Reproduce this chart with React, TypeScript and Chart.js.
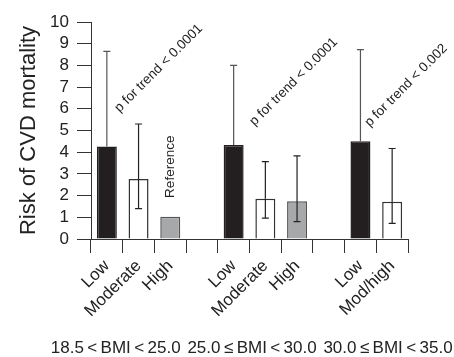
import React, { useEffect, useRef } from "react";
import { Chart, registerables } from "chart.js";

Chart.register(...registerables);

const categories = ["Low", "Moderate", "High", "", "Low", "Moderate", "High", "", "Low", "Mod/high"];
const riskValues = [4.26, 2.76, 1.02, null, 4.33, 1.85, 1.74, null, 4.5, 1.72];
const upperCI = [8.65, 5.3, null, null, 8.0, 3.57, 3.83, null, 8.73, 4.17];
const lowerCI = [null, 1.4, null, null, null, 0.96, 0.8, null, null, 0.72];
const barColors = ["#231f20", "#ffffff", "#a7a8aa", "#ffffff", "#231f20", "#ffffff", "#a7a8aa", "#ffffff", "#231f20", "#ffffff"];
const borderColors = ["#231f20", "#333333", "#555555", "#333333", "#231f20", "#333333", "#555555", "#333333", "#231f20", "#333333"];
const groupLabels = ["18.5\u2009<\u2009BMI\u2009<\u200925.0", "25.0\u2009\u2264\u2009BMI\u2009<\u200930.0", "30.0\u2009\u2264\u2009BMI\u2009<\u200935.0"];
const groupLabelPos = [0.28, 4.58, 8.87];
const trendLabels = ["p for trend < 0.0001", "p for trend < 0.0001", "p for trend < 0.002"];
const trendPos = [
  [0.4, 5.82],
  [4.66, 5.2],
  [8.29, 5.15],
];
const referenceLabel = "Reference";
const referencePos = [2, 3.33];
const yTicks = [0, 1, 2, 3, 4, 5, 6, 7, 8, 9, 10];

const FONT = "'Liberation Sans', Arial, Helvetica, sans-serif";

const overlayPlugin = {
  id: "overlay",
  afterDatasetsDraw(chart: any) {
    const ctx = chart.ctx;
    const xs = chart.scales.x;
    const ys = chart.scales.y;
    ctx.save();
    ctx.lineWidth = 1.2;
    const cap = 3.5;
    for (let i = 0; i < riskValues.length; i++) {
      const v = riskValues[i];
      if (v == null) continue;
      const x = xs.getPixelForValue(i);
      const yv = ys.getPixelForValue(v);
      ctx.strokeStyle = i % 4 === 0 ? "#555555" : "#222222";
      if (upperCI[i] != null) {
        const yu = ys.getPixelForValue(upperCI[i] as number);
        ctx.beginPath();
        ctx.moveTo(x, yv);
        ctx.lineTo(x, yu);
        ctx.moveTo(x - cap, yu);
        ctx.lineTo(x + cap, yu);
        ctx.stroke();
      }
      if (lowerCI[i] != null) {
        const yl = ys.getPixelForValue(lowerCI[i] as number);
        ctx.beginPath();
        ctx.moveTo(x, yv);
        ctx.lineTo(x, yl);
        ctx.moveTo(x - cap, yl);
        ctx.lineTo(x + cap, yl);
        ctx.stroke();
      }
    }
    ctx.fillStyle = "#222";
    ctx.font = `13.5px ${FONT}`;
    ctx.textAlign = "left";
    ctx.textBaseline = "alphabetic";
    trendLabels.forEach((t, k) => {
      const px = xs.getPixelForValue(trendPos[k][0]);
      const py = ys.getPixelForValue(trendPos[k][1]);
      ctx.save();
      ctx.translate(px, py);
      ctx.rotate(-Math.PI / 4);
      ctx.fillText(t, 0, 0);
      ctx.restore();
    });
    ctx.save();
    ctx.translate(xs.getPixelForValue(referencePos[0]), ys.getPixelForValue(referencePos[1]));
    ctx.rotate(-Math.PI / 2);
    ctx.textAlign = "center";
    ctx.textBaseline = "middle";
    ctx.fillText(referenceLabel, 0, 0);
    ctx.restore();
    ctx.font = `17px ${FONT}`;
    ctx.textAlign = "center";
    ctx.textBaseline = "middle";
    groupLabels.forEach((g, k) => {
      ctx.fillText(g, xs.getPixelForValue(groupLabelPos[k]), xs.bottom - 9);
    });
    ctx.restore();
  },
};

export default function App() {
  const ref = useRef<HTMLCanvasElement | null>(null);
  useEffect(() => {
    document.body.style.margin = "0";
    if (!ref.current) return;
    const chart = new Chart(ref.current, {
      type: "bar",
      data: {
        labels: categories,
        datasets: [
          {
            data: riskValues as any,
            backgroundColor: barColors,
            borderColor: borderColors,
            borderWidth: 1.5,
            barPercentage: 0.63,
            categoryPercentage: 1,
          },
        ],
      },
      options: {
        animation: false,
        responsive: false,
        layout: { padding: { top: 22, right: 46, left: 0, bottom: 0 } },
        plugins: { legend: { display: false }, tooltip: { enabled: false } },
        scales: {
          x: {
            offset: true,
            grid: { display: true, drawOnChartArea: false, drawTicks: true, tickLength: 14, color: "#333", offset: true },
            border: { display: true, color: "#333", width: 1 },
            ticks: {
              minRotation: 45,
              maxRotation: 45,
              autoSkip: false,
              color: "#222",
              font: { family: FONT, size: 17 },
              padding: 3,
            },
            afterFit(scale: any) {
              scale.height = 118;
            },
          },
          y: {
            min: 0,
            max: 10,
            afterBuildTicks(scale: any) {
              scale.ticks = yTicks.map((v) => ({ value: v }));
            },
            grid: { display: true, drawOnChartArea: false, drawTicks: true, tickLength: 14, color: "#333" },
            border: { display: true, color: "#333", width: 1 },
            ticks: { color: "#222", font: { family: FONT, size: 17 }, padding: 8, autoSkip: false },
            title: {
              display: true,
              text: "Risk of CVD mortality",
              color: "#222",
              font: { family: FONT, size: 22 },
              padding: { top: 16, bottom: 0 },
            },
            afterFit(scale: any) {
              scale.width = 91;
            },
          },
        },
      },
      plugins: [overlayPlugin],
    });
    return () => chart.destroy();
  }, []);
  return (
    <div style={{ width: 454, height: 357 }}>
      <canvas ref={ref} width={454} height={357} style={{ display: "block" }} />
    </div>
  );
}
